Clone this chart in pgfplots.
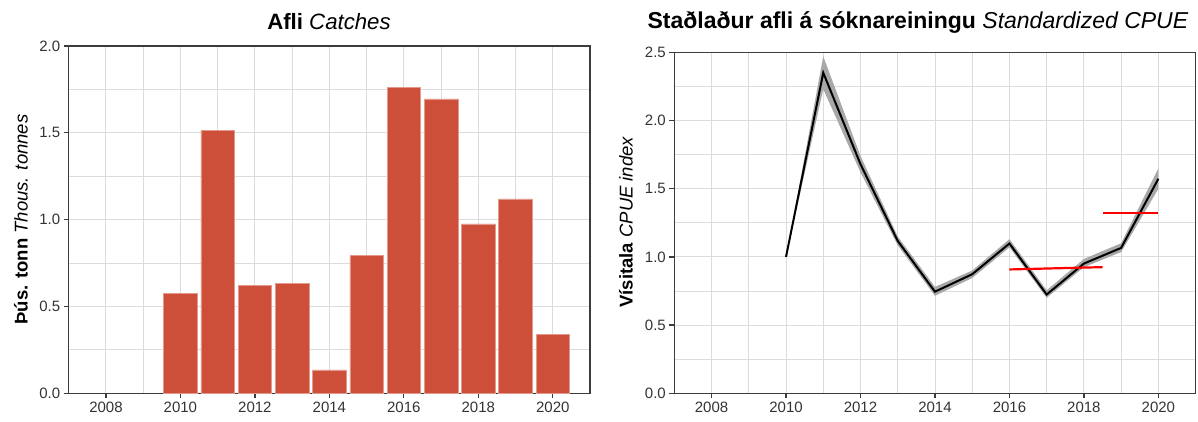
\documentclass[border=0pt]{standalone}
\usepackage{fontspec}
\setmainfont{Liberation Sans}
\usepackage{pgfplots}
\pgfplotsset{compat=1.18}
\definecolor{barred}{HTML}{CD4F39}
\definecolor{baredge}{HTML}{E39A8C}
\definecolor{gridc}{HTML}{DCDCDC}
\definecolor{framec}{HTML}{3C3C3C}
\definecolor{tickc}{HTML}{333333}
\definecolor{ribbon}{HTML}{A8A8A8}
\pgfplotsset{
  mystyle/.style={
    scale only axis, anchor=south west, width=521.3pt,
    xmin=2007, xmax=2021,
    xtick={2008,2010,2012,2014,2016,2018,2020},
    xticklabels={2008,2010,2012,2014,2016,2018,2020},
    minor xtick={2007,2009,2011,2013,2015,2017,2019,2021},
    grid=both,
    major grid style={draw=gridc, line width=0.9pt},
    minor grid style={draw=gridc, line width=0.9pt},
    axis line style={draw=framec, line width=1.3pt},
    tick align=outside, major tick length=5pt, minor tick length=0pt,
    major tick style={draw=framec, line width=1.3pt},
    xtick pos=bottom, ytick pos=left,
    tick label style={font=\fontsize{15}{18}\selectfont, text=tickc},
    yticklabel style={/pgf/number format/.cd, fixed, fixed zerofill, precision=1, assume math mode=true},
  }
}
\begin{document}
\begin{tikzpicture}[x=1pt,y=1pt]
\path[use as bounding box] (0,0) rectangle (1198,421);
% Left panel: catches
\begin{axis}[mystyle, at={(68.7pt,27.7pt)}, height=347.3pt,
  ymin=0, ymax=2, ytick={0,0.5,1,1.5,2}, minor ytick={0.25,0.75,1.25,1.75}]
\addplot[ybar, bar width=0.9, bar shift=0pt, fill=barred, draw=baredge, line width=0.6pt] coordinates {
(2010,0.575) (2011,1.515) (2012,0.62) (2013,0.635) (2014,0.135) (2015,0.795)
(2016,1.76) (2017,1.695) (2018,0.975) (2019,1.12) (2020,0.34)};
\end{axis}
% Right panel: CPUE
\begin{axis}[mystyle, at={(674.3pt,27.7pt)}, height=341pt,
  ymin=0, ymax=2.5, ytick={0,0.5,1,1.5,2,2.5}, minor ytick={0.25,0.75,1.25,1.75,2.25}]
\addplot[fill=ribbon, draw=none] coordinates {
(2010,1.0) (2011,2.47) (2012,1.74) (2013,1.15) (2014,0.78) (2015,0.90) (2016,1.13)
(2017,0.755) (2018,0.985) (2019,1.10) (2020,1.65)
(2020,1.50) (2019,1.035) (2018,0.925) (2017,0.70) (2016,1.07) (2015,0.845) (2014,0.715)
(2013,1.085) (2012,1.62) (2011,2.23) (2010,1.0)} -- cycle;
\addplot[black, line width=2pt] coordinates {
(2010,1.0) (2011,2.35) (2012,1.68) (2013,1.117) (2014,0.745) (2015,0.873) (2016,1.098)
(2017,0.724) (2018,0.951) (2019,1.066) (2020,1.573)};
\addplot[red, line width=2.2pt] coordinates {(2016,0.908) (2018.5,0.925)};
\addplot[red, line width=2.2pt] coordinates {(2018.5,1.322) (2020,1.322)};
\end{axis}
\node[font=\fontsize{22.2}{26}\selectfont] at (329,399) {\textbf{Afli} \textit{Catches}};
\node[font=\fontsize{23}{27}\selectfont] at (918,399) {\textbf{Staðlaður afli á sóknareiningu} \textit{Standardized CPUE}};
\node[rotate=90, font=\fontsize{18.5}{22}\selectfont] at (21,201.5) {\textbf{Þús. tonn} \textit{Thous. tonnes}};
\node[rotate=90, font=\fontsize{18.5}{22}\selectfont] at (626,199) {\textbf{Vísitala} \textit{CPUE index}};
\end{tikzpicture}
\end{document}
